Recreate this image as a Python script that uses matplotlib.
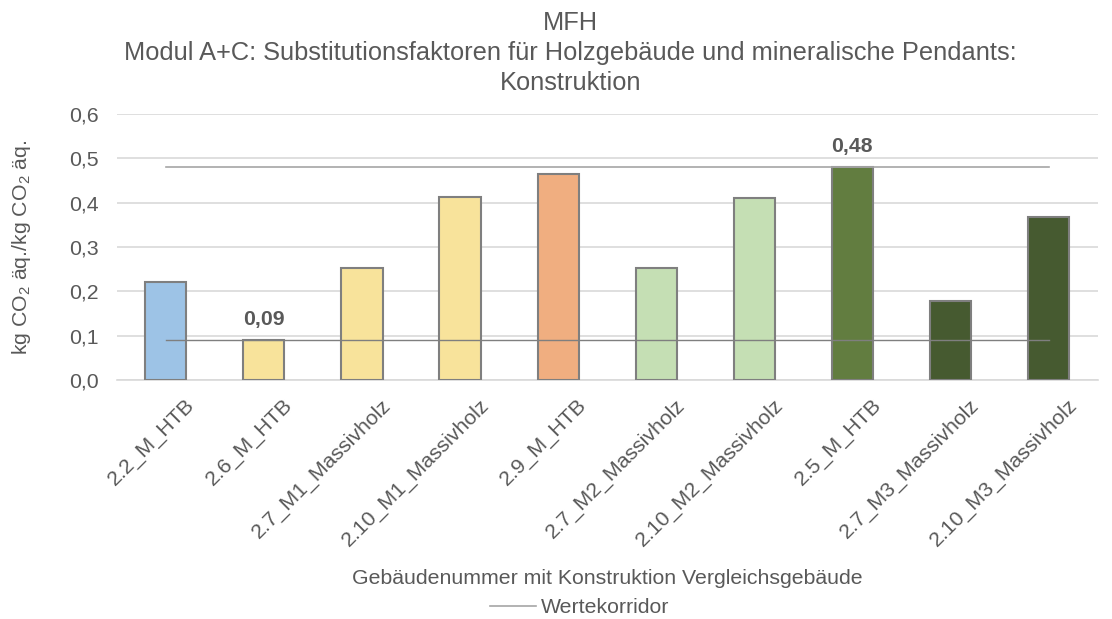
import matplotlib
matplotlib.use("Agg")
import matplotlib.pyplot as plt
import matplotlib.transforms as mtransforms
from matplotlib.ticker import FuncFormatter

plt.rcParams['font.family'] = ['Liberation Sans', 'DejaVu Sans']
plt.rcParams['mathtext.fontset'] = 'custom'
plt.rcParams['mathtext.rm'] = 'Liberation Sans'
plt.rcParams['mathtext.it'] = 'Liberation Sans'

categories = ["2.2_M_HTB", "2.6_M_HTB", "2.7_M1_Massivholz", "2.10_M1_Massivholz",
              "2.9_M_HTB", "2.7_M2_Massivholz", "2.10_M2_Massivholz", "2.5_M_HTB",
              "2.7_M3_Massivholz", "2.10_M3_Massivholz"]
values = [0.221, 0.09, 0.253, 0.413, 0.465, 0.252, 0.410, 0.48, 0.178, 0.368]
bar_colors = ["#9DC3E6", "#F8E39B", "#F8E39B", "#F8E39B", "#F0AE80",
              "#C5DFB4", "#C5DFB4", "#627D40", "#465A30", "#465A30"]
corridor_min = 0.09
corridor_max = 0.48
yticks = [0.0, 0.1, 0.2, 0.3, 0.4, 0.5, 0.6]

FS = 15.3
fig = plt.figure(figsize=(11.12, 6.19), dpi=100)
ax = fig.add_axes([0.105, 0.386, 0.882, 0.43])

x = list(range(len(categories)))
ax.bar(x, values, width=0.42, color=bar_colors, edgecolor="#7F7F7F", linewidth=1.5, zorder=3)

ax.plot([x[0], x[-1]], [corridor_max, corridor_max], color="#A6A6A6", lw=1.2, zorder=4,
        label="Wertekorridor")
ax.plot([x[0], x[-1]], [corridor_min, corridor_min], color="#7F7F7F", lw=1.0, zorder=4)

i_min = values.index(min(values))
i_max = values.index(max(values))
fmt = lambda v: f"{v:.2f}".replace(".", ",")
ax.text(x[i_min], corridor_min + 0.025, fmt(corridor_min), ha="center", va="bottom",
        fontsize=FS, fontweight="bold", color="#595959")
ax.text(x[i_max], corridor_max + 0.025, fmt(corridor_max), ha="center", va="bottom",
        fontsize=FS, fontweight="bold", color="#595959")

ax.set_xlim(-0.5, len(categories) - 0.5)
ax.set_ylim(0, 0.6)
ax.set_yticks(yticks)
ax.yaxis.set_major_formatter(FuncFormatter(lambda v, p: f"{v:.1f}".replace(".", ",")))
ax.grid(axis="y", color="#D9D9D9", lw=1.2, zorder=0)
for s in ["top", "right", "left"]:
    ax.spines[s].set_visible(False)
ax.spines["bottom"].set_color("#D9D9D9")
ax.spines["bottom"].set_linewidth(1.2)
ax.tick_params(axis="y", length=0, labelsize=FS, colors="#595959", pad=13)
ax.tick_params(axis="x", length=0, labelsize=FS, colors="#595959", pad=8)
ax.set_xticks(x)
ax.set_xticklabels(categories, rotation=45, ha="right", rotation_mode="anchor")
offset = mtransforms.ScaledTranslation(19 / 100, -4 / 100, fig.dpi_scale_trans)
for lbl in ax.get_xticklabels():
    lbl.set_transform(lbl.get_transform() + offset)

ax.set_ylabel(r"kg CO$_2$ äq./kg CO$_2$ äq.", fontsize=FS, color="#595959", labelpad=26)
ax.set_xlabel("Gebäudenummer mit Konstruktion Vergleichsgebäude", fontsize=FS,
              color="#595959", labelpad=14)

fig.text(0.513, 0.982, "MFH\nModul A+C: Substitutionsfaktoren für Holzgebäude und mineralische Pendants:\nKonstruktion",
         ha="center", va="top", fontsize=18.3, color="#595959", linespacing=1.3)

leg = fig.legend(loc="lower center", bbox_to_anchor=(0.521, -0.028), frameon=False,
                 fontsize=FS, handlelength=2.2, handletextpad=0.2)
for t in leg.get_texts():
    t.set_color("#595959")

fig.savefig("out.png", dpi=100)
